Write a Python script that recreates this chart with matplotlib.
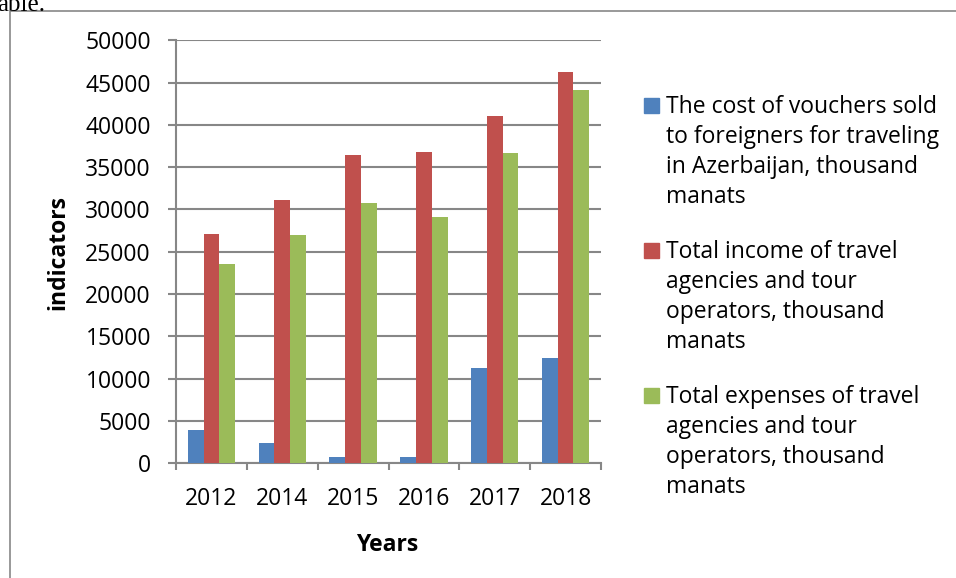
import matplotlib
matplotlib.use("Agg")
import matplotlib.pyplot as plt
from matplotlib.patches import Rectangle
import numpy as np

plt.rcParams['font.family'] = ['Open Sans', 'DejaVu Sans']

years = ["2012", "2014", "2015", "2016", "2017", "2018"]
vouchers = [3900, 2350, 750, 750, 11250, 12500]
income = [27100, 31100, 36500, 36750, 41000, 46200]
expenses = [23550, 27000, 30800, 29100, 36700, 44150]

series_labels = [
    "The cost of vouchers sold\nto foreigners for traveling\nin Azerbaijan, thousand\nmanats",
    "Total income of travel\nagencies and tour\noperators, thousand\nmanats",
    "Total expenses of travel\nagencies and tour\noperators, thousand\nmanats",
]
colors = ["#4F81BD", "#C0504D", "#9BBB59"]
grid_color = "#878787"
fs = 16.5

W, H = 956, 578
fig = plt.figure(figsize=(W / 100, H / 100), dpi=100)


def fx(px):
    return px / W


def fy(py):
    return 1 - py / H


# outer chart frame (runs off the right and bottom edges)
fig.patches.append(Rectangle((fx(10), fy(H + 20)), fx(W + 20 - 10), fy(11) - fy(H + 20),
                             transform=fig.transFigure, fill=False,
                             edgecolor=grid_color, lw=1.2))
fig.text(fx(-3), fy(11), "able.", family="Liberation Serif", fontsize=18,
         va="baseline", ha="left")

ax = fig.add_axes([fx(176), fy(463.3), fx(601) - fx(176), fy(40.3) - fy(463.3)])

x = np.arange(len(years))
w = 0.222
for i, (vals, c) in enumerate(zip([vouchers, income, expenses], colors)):
    ax.bar(x + (i - 1) * w, vals, width=w, color=c, zorder=3)

ax.set_xlim(-0.5, len(years) - 0.5)
ax.set_ylim(0, 50000)
ax.set_yticks(np.arange(0, 50001, 5000))
ax.set_xticks(x)
ax.set_xticklabels(years)
ax.set_xticks(np.arange(-0.5, len(years), 1), minor=True)

ax.grid(axis="y", color=grid_color, lw=1.5, zorder=0)
for side in ["top", "right"]:
    ax.spines[side].set_visible(False)
for side in ["left", "bottom"]:
    ax.spines[side].set_color(grid_color)
    ax.spines[side].set_linewidth(1.5)

ax.tick_params(axis="y", length=6, width=1.5, color=grid_color, pad=12, labelsize=fs)
ax.tick_params(axis="x", which="major", length=0, pad=17, labelsize=fs)
ax.tick_params(axis="x", which="minor", length=5, width=1.5, color=grid_color)

fig.text(fx(58), fy(252), "indicators", rotation=90, fontsize=fs, fontweight="bold",
         ha="center", va="center")
fig.text(fx(387), fy(545), "Years", fontsize=fs, fontweight="bold",
         ha="center", va="center")

# legend beside the plot: square sits on the first baseline, 30 px per line
first_baselines = [113, 258, 403]
line_step = 30
for base, label, c in zip(first_baselines, series_labels, colors):
    fig.patches.append(Rectangle((fx(644), fy(base)), fx(15), fy(0) - fy(15),
                                 transform=fig.transFigure, color=c))
    for k, line in enumerate(label.split("\n")):
        fig.text(fx(666), fy(base + k * line_step), line, fontsize=fs,
                 ha="left", va="baseline")

fig.savefig("out.png", dpi=100)
